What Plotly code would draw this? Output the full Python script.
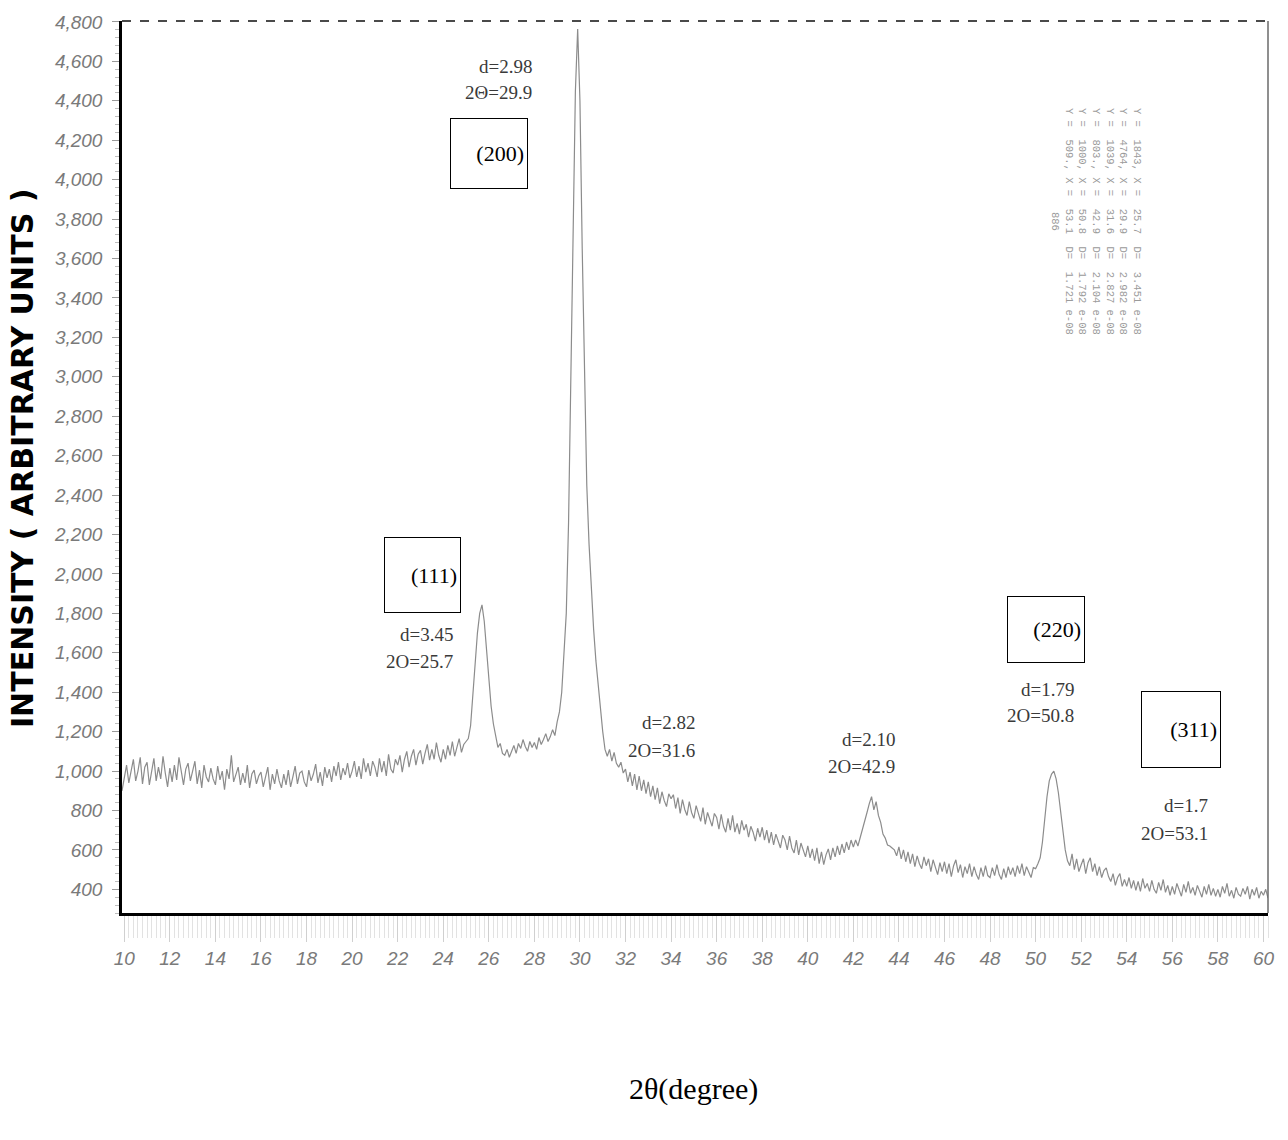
import numpy as np
import plotly.graph_objects as go

# ---- XRD scan: 2-theta grid (0.1 deg steps) and counts ----
two_theta_start = 9.9
two_theta_step = 0.1
intensity = [
    900,
    960, 1030, 940, 1010, 1060, 950, 1000, 1070, 935, 1020,    # 10
    1045, 930, 995, 1065, 950, 1020, 960, 1075, 990, 920,      # 11
    1015, 945, 1030, 955, 1070, 990, 930, 1010, 1040, 950,     # 12
    995, 1050, 935, 1005, 915, 1030, 970, 945, 1015, 960,      # 13
    930, 1025, 955, 1000, 905, 1010, 960, 1080, 945, 990,      # 14
    1020, 930, 990, 940, 1030, 915, 985, 1005, 935, 975,       # 15
    995, 920, 965, 1020, 905, 985, 935, 1010, 950, 915,        # 16
    985, 930, 1005, 920, 970, 1025, 935, 990, 1000, 945,       # 17
    920, 1005, 950, 985, 1035, 940, 995, 925, 1020, 965,       # 18
    1010, 945, 1025, 975, 1045, 955, 1015, 980, 1040, 965,     # 19
    1000, 1050, 970, 1025, 960, 1065, 995, 1040, 975, 1050,    # 20
    1020, 970, 1065, 995, 1050, 975, 1085, 1010, 990, 1060,    # 21
    1030, 1080, 995, 1060, 1100, 1020, 1075, 1110, 1030, 1085, # 22
    1105, 1035, 1090, 1135, 1055, 1110, 1060, 1145, 1080, 1045,  # 23
    1110, 1060, 1130, 1080, 1150, 1075, 1120, 1165, 1095, 1135,  # 24
    1150, 1165, 1230, 1380, 1550, 1700, 1800, 1843, 1760, 1610,  # 25
    1470, 1330, 1240, 1170, 1120, 1140, 1090, 1080, 1110, 1070,  # 26
    1100, 1130, 1090, 1140, 1115, 1160, 1125, 1100, 1150, 1120,  # 27
    1145, 1110, 1170, 1135, 1160, 1190, 1150, 1175, 1210, 1180,  # 28
    1250, 1300, 1400, 1590, 1800, 2260, 3000, 3800, 4450, 4764,  # 29
    4400, 3650, 2950, 2450, 2150, 1900, 1720, 1560, 1430, 1300,  # 30
    1200, 1110, 1075, 1110, 1050, 1095, 1039, 1020, 1045, 990,   # 31
    1010, 945, 995, 925, 985, 905, 975, 900, 955, 885,         # 32
    945, 870, 925, 855, 915, 835, 895, 850, 820, 885,          # 33
    860, 880, 810, 865, 785, 855, 805, 775, 845, 790,          # 34
    760, 825, 780, 745, 815, 730, 790, 750, 720, 785,          # 35
    765, 705, 780, 720, 690, 760, 700, 775, 690, 735,          # 36
    680, 750, 700, 730, 665, 720, 690, 645, 710, 665,          # 37
    715, 650, 700, 635, 690, 625, 680, 645, 610, 675,          # 38
    650, 600, 670, 610, 585, 650, 575, 635, 595, 565,          # 39
    620, 560, 605, 545, 610, 530, 590, 525, 575, 605,          # 40
    550, 610, 565, 620, 575, 630, 585, 640, 600, 650,          # 41
    615, 650, 620, 660, 700, 740, 790, 835, 870, 803,          # 42
    845, 775, 740, 680, 660, 625, 620, 610, 600, 570,          # 43
    615, 555, 600, 540, 590, 530, 580, 515, 570, 530,          # 44
    505, 565, 520, 555, 490, 550, 505, 475, 535, 490,          # 45
    540, 480, 530, 465, 520, 550, 485, 525, 460, 515,          # 46
    480, 530, 465, 515, 475, 450, 510, 465, 520, 470,          # 47
    460, 510, 470, 525, 475, 450, 505, 460, 515, 475,          # 48
    510, 465, 520, 480, 530, 470, 515, 485, 460, 510,          # 49
    505, 530, 560, 640, 760, 870, 950, 985, 1000, 960,         # 50
    890, 800, 690, 600, 545, 520, 580, 500, 555, 490,          # 51
    525, 555, 480, 535, 560, 490, 530, 470, 515, 460,          # 52
    495, 509, 465, 440, 480, 420, 460, 480, 415, 450,          # 53
    415, 460, 405, 445, 395, 440, 390, 455, 405, 430,          # 54
    390, 445, 400, 380, 435, 395, 450, 385, 420, 370,          # 55
    415, 375, 430, 395, 365, 425, 385, 440, 380, 410,          # 56
    370, 420, 390, 360, 415, 375, 425, 370, 405, 365,          # 57
    400, 360, 415, 380, 430, 365, 395, 355, 410, 375,          # 58
    365, 405, 375, 415, 350, 400, 370, 410, 355, 390,          # 59
    370, 400, 355,                                             # 60
]
two_theta = np.round(two_theta_start + two_theta_step * np.arange(len(intensity)), 1)

# ---- peak annotations ----
peak_hkl = ["(111)", "(200)", "(220)", "(311)"]
peak_d_text = ["d=3.45", "d=2.98", "d=2.82", "d=2.10", "d=1.79", "d=1.7"]
peak_2t_text = ["2O=25.7", "2\u0398=29.9", "2O=31.6", "2O=42.9", "2O=50.8", "2O=53.1"]
peak_table = [
    "Y =  1843, X =  25.7  D=  3.451 e-08",
    "Y =  4764, X =  29.9  D=  2.982 e-08",
    "Y =  1039, X =  31.6  D=  2.827 e-08",
    "Y =  803., X =  42.9  D=  2.104 e-08",
    "Y =  1000, X =  50.8  D=  1.792 e-08",
    "Y =  509., X =  53.1  D=  1.721 e-08",
    "886",
]

x_ticks = list(range(10, 61, 2))
y_ticks = list(range(400, 4801, 200))

W, H = 1288, 1140
L, R, T, B = 122, 20, 15, 227
PW, PH = W - L - R, H - T - B


def px(xp):
    return (xp - L) / PW


def py(yp):
    return (H - B - yp) / PH


fig = go.Figure()
fig.add_trace(go.Scatter(
    x=two_theta, y=intensity, mode="lines",
    line=dict(color="#8c8c8c", width=1.2),
    hoverinfo="x+y", showlegend=False,
))

serif = "Liberation Serif, Times New Roman, serif"
ann = []

# d-spacing / 2-theta captions (right-aligned pairs)
caption_pos = [(455, 633, 660), (534, 61, 87), (697, 721, 749),
               (897, 738, 766), (1076, 688, 714), (1210, 805, 833)]
for (xr, y1, y2), dtxt, ttxt in zip(caption_pos, peak_d_text, peak_2t_text):
    for yy, txt in ((y1, dtxt), (y2, ttxt)):
        ann.append(dict(x=px(xr), y=py(yy), xref="paper", yref="paper",
                        text=txt, showarrow=False, xanchor="right", yanchor="middle",
                        font=dict(family=serif, size=19, color="#3a3a3a")))

# Miller-index boxes
box_pos = [(383, 535, 462, 611), (449, 113, 529, 184),
           (1006, 594, 1086, 661), (1140, 690, 1222, 767)]
for (x0, y0, x1, y1), hkl in zip(box_pos, peak_hkl):
    ann.append(dict(x=px((x0 + x1) / 2), y=py((y0 + y1) / 2), xref="paper", yref="paper",
                    text=hkl, showarrow=False, xanchor="center", yanchor="middle",
                    width=x1 - x0 - 10, height=y1 - y0 - 8, align="right", valign="middle",
                    bordercolor="black", borderwidth=1, borderpad=3, bgcolor="white",
                    font=dict(family=serif, size=22, color="black")))

# instrument peak list printed sideways
ann.append(dict(x=px(1096), y=py(100), xref="paper", yref="paper",
                text="<br>".join(peak_table), showarrow=False, textangle=90,
                xanchor="center", yanchor="top", align="center",
                font=dict(family="Liberation Mono, DejaVu Sans Mono, monospace",
                          size=10.5, color="#9a9a9a")))

# axis titles
ann.append(dict(x=px(22), y=py(455), xref="paper", yref="paper",
                text="<b>INTENSITY ( ARBITRARY UNITS )</b>", showarrow=False,
                textangle=-90, xanchor="center", yanchor="middle",
                font=dict(family="DejaVu Sans, Arial Black, sans-serif", size=30, color="black")))
ann.append(dict(x=px(693), y=py(1090), xref="paper", yref="paper",
                text="2\u03b8(degree)", showarrow=False, xanchor="center", yanchor="middle",
                font=dict(family=serif, size=30, color="black")))

tick_font = dict(family="Liberation Sans, Arial, sans-serif", size=19, color="#7a7a7a",
                 style="italic")

fig.update_layout(
    width=W, height=H,
    margin=dict(l=L, r=R, t=T, b=B, pad=0),
    paper_bgcolor="white", plot_bgcolor="white",
    annotations=ann,
    shapes=[
        dict(type="line", xref="paper", yref="paper", x0=0, x1=1, y0=1, y1=1,
             line=dict(color="#4a4a4a", width=2, dash="dash")),
        dict(type="line", xref="paper", yref="paper", x0=1, x1=1, y0=0, y1=1,
             line=dict(color="#6a6a6a", width=1.5)),
    ],
    xaxis=dict(
        range=[9.9, 60.2], tickmode="array", tickvals=x_ticks,
        ticktext=[str(v) for v in x_ticks],
        showgrid=False, zeroline=False,
        showline=True, linecolor="black", linewidth=3,
        ticks="outside", ticklen=26, tickcolor="#d0d0d0", tickwidth=1,
        minor=dict(dtick=0.2, ticks="outside", ticklen=22, tickcolor="#e2e2e2", tickwidth=1),
        tickfont=tick_font,
    ),
    yaxis=dict(
        range=[280, 4805], tickmode="array", tickvals=y_ticks,
        ticktext=[f"{v:,}" for v in y_ticks],
        showgrid=False, zeroline=False,
        showline=True, linecolor="black", linewidth=2.5,
        ticks="outside", ticklen=7, tickcolor="#9a9a9a", tickwidth=1,
        minor=dict(dtick=40, ticks="outside", ticklen=4, tickcolor="#bdbdbd", tickwidth=1),
        ticklabelstandoff=6,
        tickfont=tick_font,
    ),
)

fig.write_html("out.html")
